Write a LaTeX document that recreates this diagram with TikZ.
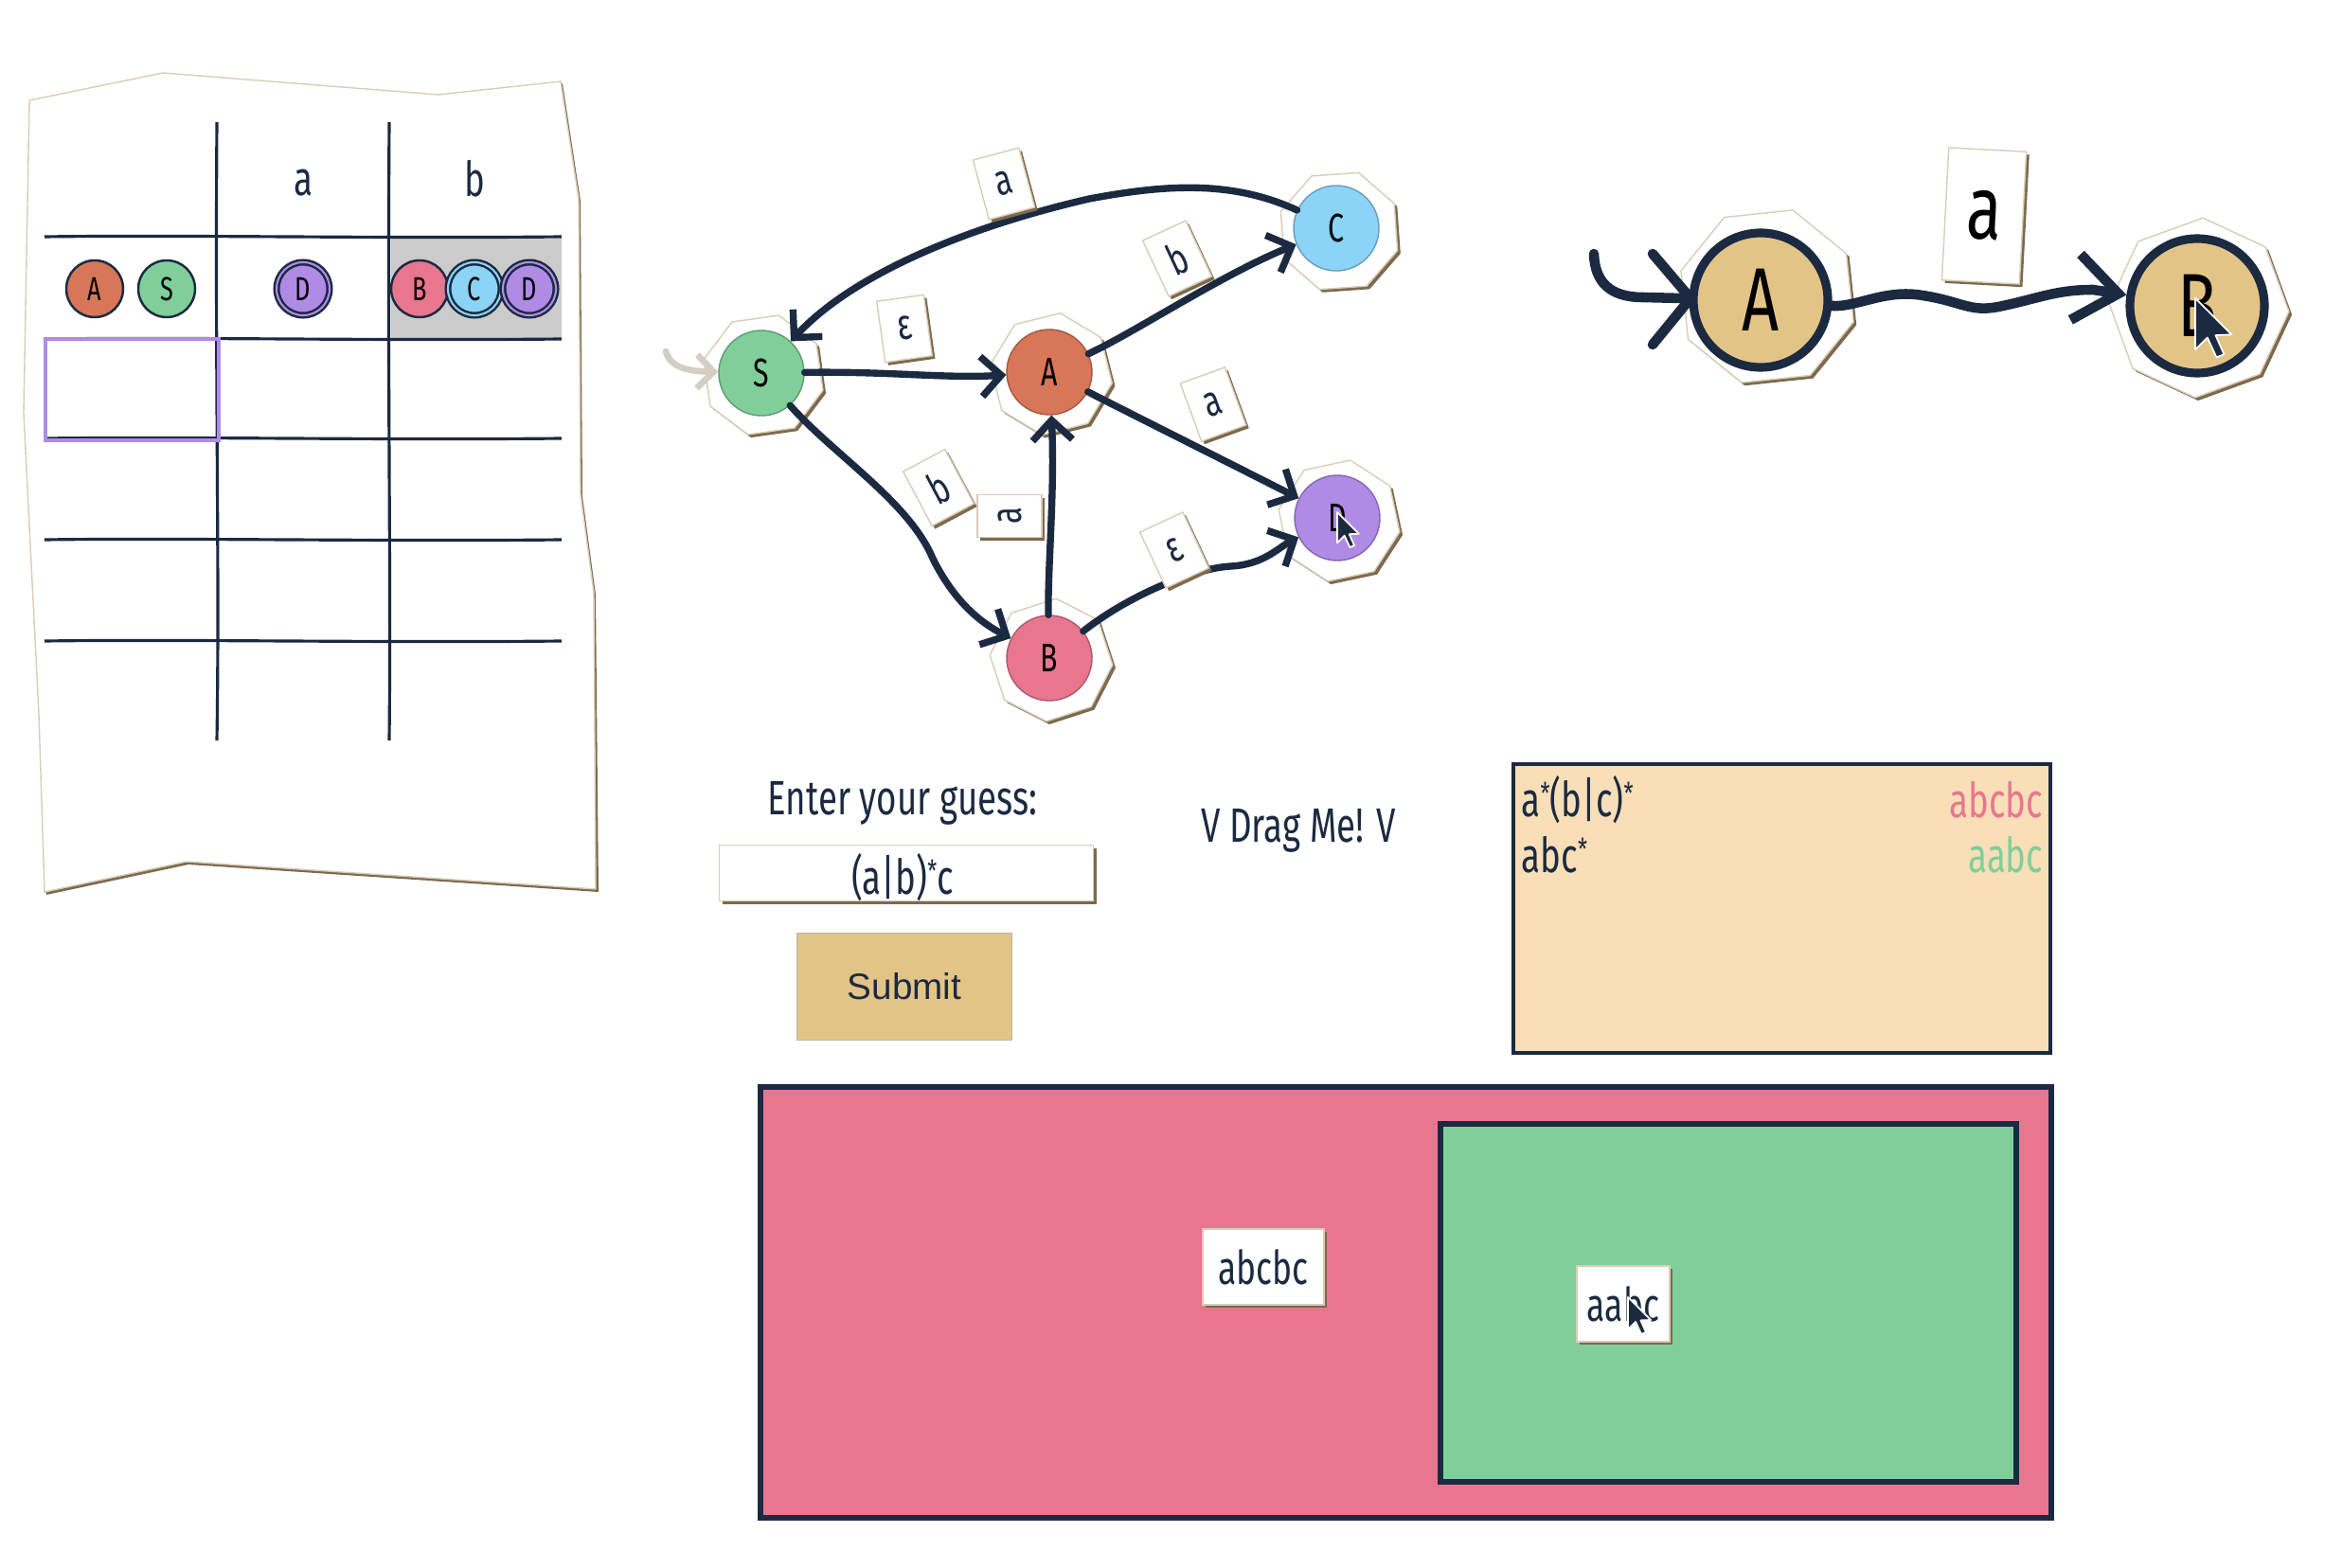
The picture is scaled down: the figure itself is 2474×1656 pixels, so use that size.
\documentclass[tikz,border=0pt]{standalone}
\usepackage{fontspec}
\usetikzlibrary{arrows.meta,shapes.geometric,shadows}
\newfontfamily\hand[FakeStretch=0.72]{Fira Sans}
\newfontfamily\btnfont{Liberation Sans}
\newcommand\hfs[1]{\hand\fontsize{#1}{#1}\selectfont}
\newcommand\upstar{\raisebox{.5ex}{\fontsize{9}{9}\selectfont *}}
\newcommand\mousecursor[3]{\filldraw[fill=navy, draw=white, line width=0.5pt, line join=round, shift={(#1,#2)}, scale=#3] (0,0) -- (0,17) -- (4,13) -- (7,19.5) -- (9.5,18.5) -- (6.7,12.2) -- (12,12) -- cycle;}
\definecolor{navy}{HTML}{1B2A41}
\definecolor{cpink}{HTML}{E8768F}
\definecolor{cgreen}{HTML}{80CF9B}
\definecolor{corange}{HTML}{D77758}
\definecolor{cblue}{HTML}{8BD3F7}
\definecolor{cpurple}{HTML}{AF8BE6}
\definecolor{ctan}{HTML}{E3C487}
\definecolor{cpeach}{HTML}{F9DFB7}
\definecolor{cgray}{HTML}{CBCBCB}
\definecolor{shbrown}{HTML}{7D6A4E}
\definecolor{pedge}{HTML}{D9CDB8}
\definecolor{initgray}{HTML}{D5CEC4}
\tikzset{
  paper/.style={fill=white, draw=pedge, line width=0.4pt, drop shadow={shadow xshift=0.9pt, shadow yshift=-0.9pt, fill=shbrown, opacity=1}},
  octpaper/.style={paper, regular polygon, regular polygon sides=8, minimum size=#1, inner sep=0pt},
  gstate/.style={circle, minimum size=9mm, inner sep=0pt, draw=#1!75!black, line width=0.4pt, fill=#1, font=\hfs{12}},
  bstate/.style={circle, minimum size=14.2mm, inner sep=0pt, draw=navy, line width=2.6pt, fill=ctan, font=\hfs{27}},
  gedge/.style={navy, line width=2.1pt, line cap=round, -{Straight Barb[length=6pt,width=12pt]}},
  bigedge/.style={navy, line width=3pt, line cap=round},
  elabel/.style={paper, inner sep=0pt, minimum width=5mm, minimum height=6.5mm, font=\hfs{13}, text=navy},
  tline/.style={navy, line width=0.9pt},
  mini/.style={circle, minimum size=6mm, inner sep=0pt, draw=navy, line width=0.7pt, fill=#1, font=\hfs{10}},
  minifin/.style={mini=#1, double=#1, double distance=0.6pt, minimum size=5.6mm},
  txt/.style={text=navy, font=\hfs{14.5}, inner sep=0pt}
}
\begin{document}
\begin{tikzpicture}[x=0.1mm, y=-0.1mm]
\useasboundingbox (0,0) rectangle (2474,1656);

% ---------- left paper with table ----------
\fill[shbrown] (33,108) -- (174,79) -- (465,102) -- (594,88) -- (613,212) -- (615,524) -- (629,628) -- (632,942) -- (199,913) -- (49,945) -- cycle;
\draw[fill=white, draw=pedge, line width=0.4pt] (31,106) -- (172,77) -- (463,100) -- (592,86) -- (611,210) -- (613,522) -- (627,626) -- (629,939) -- (197,910) -- (47,942) -- (41,754) -- (25,436) -- cycle;
\fill[cgray] (413,252) rectangle (593,358);
\draw[tline] (229,129) .. controls (227,400) and (232,600) .. (229,782);
\draw[tline] (411,129) .. controls (409,400) and (413,600) .. (411,782);
\foreach \yy in {250,358,463,570,677}
  \draw[tline] (47,\yy) .. controls (200,\yy-2) and (400,\yy+2) .. (593,\yy);
\draw[cpurple, line width=1.2pt] (48,358) rectangle (231,465);
\node[txt] (ha) at (320,193) {a};
\node[txt] (hb) at (501,189) {b};
\node[mini=corange] (tA) at (100,305) {A};
\node[mini=cgreen] (tS) at (176,305) {S};
\node[minifin=cpurple] (tD1) at (320,305) {D};
\node[mini=cpink] (tB) at (443,305) {B};
\node[minifin=cblue] (tC) at (501,305) {C};
\node[minifin=cpurple] (tD2) at (559,305) {D};

% ---------- automaton graph ----------
\node[octpaper=13mm, rotate=8] (pS) at (806,396) {};
\node[octpaper=13mm, rotate=14] (pA) at (1110,395) {};
\node[octpaper=13mm, rotate=4] (pC) at (1414,244) {};
\node[octpaper=13mm, rotate=12] (pD) at (1414,550) {};
\node[octpaper=13mm, rotate=18] (pB) at (1110,697) {};
\node[gstate=cgreen] (S) at (804,394) {S};
\node[gstate=corange] (A) at (1108,393) {A};
\node[gstate=cblue] (C) at (1411,241) {C};
\node[gstate=cpurple] (D) at (1412,547) {D};
\node[gstate=cpink] (B) at (1108,695) {B};

\coordinate (sinit) at (703,371);
\draw[initgray, line width=1.9pt, line cap=round, -{Straight Barb[length=5pt,width=10pt]}] (sinit) .. controls (708,388) and (725,392) .. (S);

\draw[gedge] (C) .. controls (1300,190) and (1230,195) .. (1150,210) .. controls (1020,240) and (900,290) .. (S);
\draw[gedge] (S) .. controls (940,392) and (1000,400) .. (A);
\draw[gedge] (A) .. controls (1200,350) and (1290,290) .. (C);
\draw[gedge] (A) .. controls (1200,440) and (1300,490) .. (D);
\draw[gedge] (S) .. controls (880,480) and (960,530) .. (985,590) .. controls (1010,640) and (1040,660) .. (B);
\draw[gedge] (B) .. controls (1106,600) and (1114,520) .. (A);
\draw[gedge] (B) .. controls (1190,630) and (1260,600) .. (1300,598) .. controls (1335,596) and (1350,578) .. (D);

\node[elabel, rotate=15] (lCS) at (1060,194) {a};
\node[elabel, rotate=8] (lSA) at (955,347) {ε};
\node[elabel, rotate=25] (lAC) at (1243,273) {b};
\node[elabel, rotate=20] (lAD) at (1281,427) {a};
\node[elabel, rotate=28] (lSB) at (991,515) {b};
\node[elabel, rotate=90, minimum width=4.5mm, minimum height=6.8mm] (lBA) at (1066,545) {a};
\node[elabel, rotate=25] (lBD) at (1240,581) {ε};
\mousecursor{1412}{541}{1.9}

% ---------- right small automaton ----------
\node[octpaper=19mm, rotate=6] (pA2) at (1866,313) {};
\node[octpaper=19mm, rotate=20] (pB2) at (2322,325) {};
\node[bstate] (A2) at (1859,317) {A};
\node[bstate] (B2) at (2320,323) {B};
\coordinate (a2init) at (1683,268);
\draw[bigedge] (a2init) .. controls (1684,298) and (1700,314) .. (1735,314) -- (A2);
\draw[navy, line width=3pt, line cap=round, line join=miter] (1745,268) -- (1785,315) -- (1745,364);
\draw[bigedge, -{Straight Barb[length=13pt,width=20pt]}] (A2) .. controls (1960,325) and (1990,305) .. (2030,312) .. controls (2070,318) and (2080,330) .. (2110,324) .. controls (2150,316) and (2170,306) .. (2210,306) -- (B2);
\node[paper, rotate=-3, minimum width=8.2mm, minimum height=14mm, inner sep=0pt, font=\hfs{27}] (lAB2) at (2095,228) {a};
\mousecursor{2318}{315}{3.2}

% ---------- guess input ----------
\node[txt] (enter) at (953,848) {Enter your guess:};
\node[paper, minimum width=39.5mm, minimum height=5.9mm, inner sep=0pt] (input) at (957,922) {};
\node[txt] (guess) at (953,927) {(a|b)\upstar c};
\node[fill=ctan, draw=shbrown!50, line width=0.5pt, minimum width=22.7mm, minimum height=11.3mm, inner sep=0pt, font=\btnfont\fontsize{11}{11}\selectfont, text=navy] (submit) at (955,1042) {Submit};
\node[txt] (drag) at (1371,877) {V Drag Me! V};

% ---------- results box ----------
\draw[fill=cpeach, draw=navy, line width=1.2pt] (1598,807) rectangle (2165,1112);
\node[txt, anchor=west] (r1) at (1606,845) {a\upstar(b|c)\upstar};
\node[txt, anchor=east, text=cpink] (r1w) at (2158,845) {abcbc};
\node[txt, anchor=west] (r2) at (1606,903) {abc\upstar};
\node[txt, anchor=east, text=cgreen] (r2w) at (2158,903) {aabc};

% ---------- sets ----------
\draw[fill=cpink, draw=navy, line width=1.8pt] (803,1148) rectangle (2166,1603);
\draw[fill=cgreen, draw=navy, line width=1.8pt] (1521,1187) rectangle (2129,1565);
\node[paper, minimum width=12.8mm, minimum height=8mm, inner sep=0pt, font=\hfs{14}, text=navy] (w1) at (1334,1338) {abcbc};
\node[paper, minimum width=9.8mm, minimum height=8mm, inner sep=0pt, font=\hfs{14}, text=navy] (w2) at (1714,1377) {aabc};
\mousecursor{1719}{1370}{2.0}
\end{tikzpicture}
\end{document}
